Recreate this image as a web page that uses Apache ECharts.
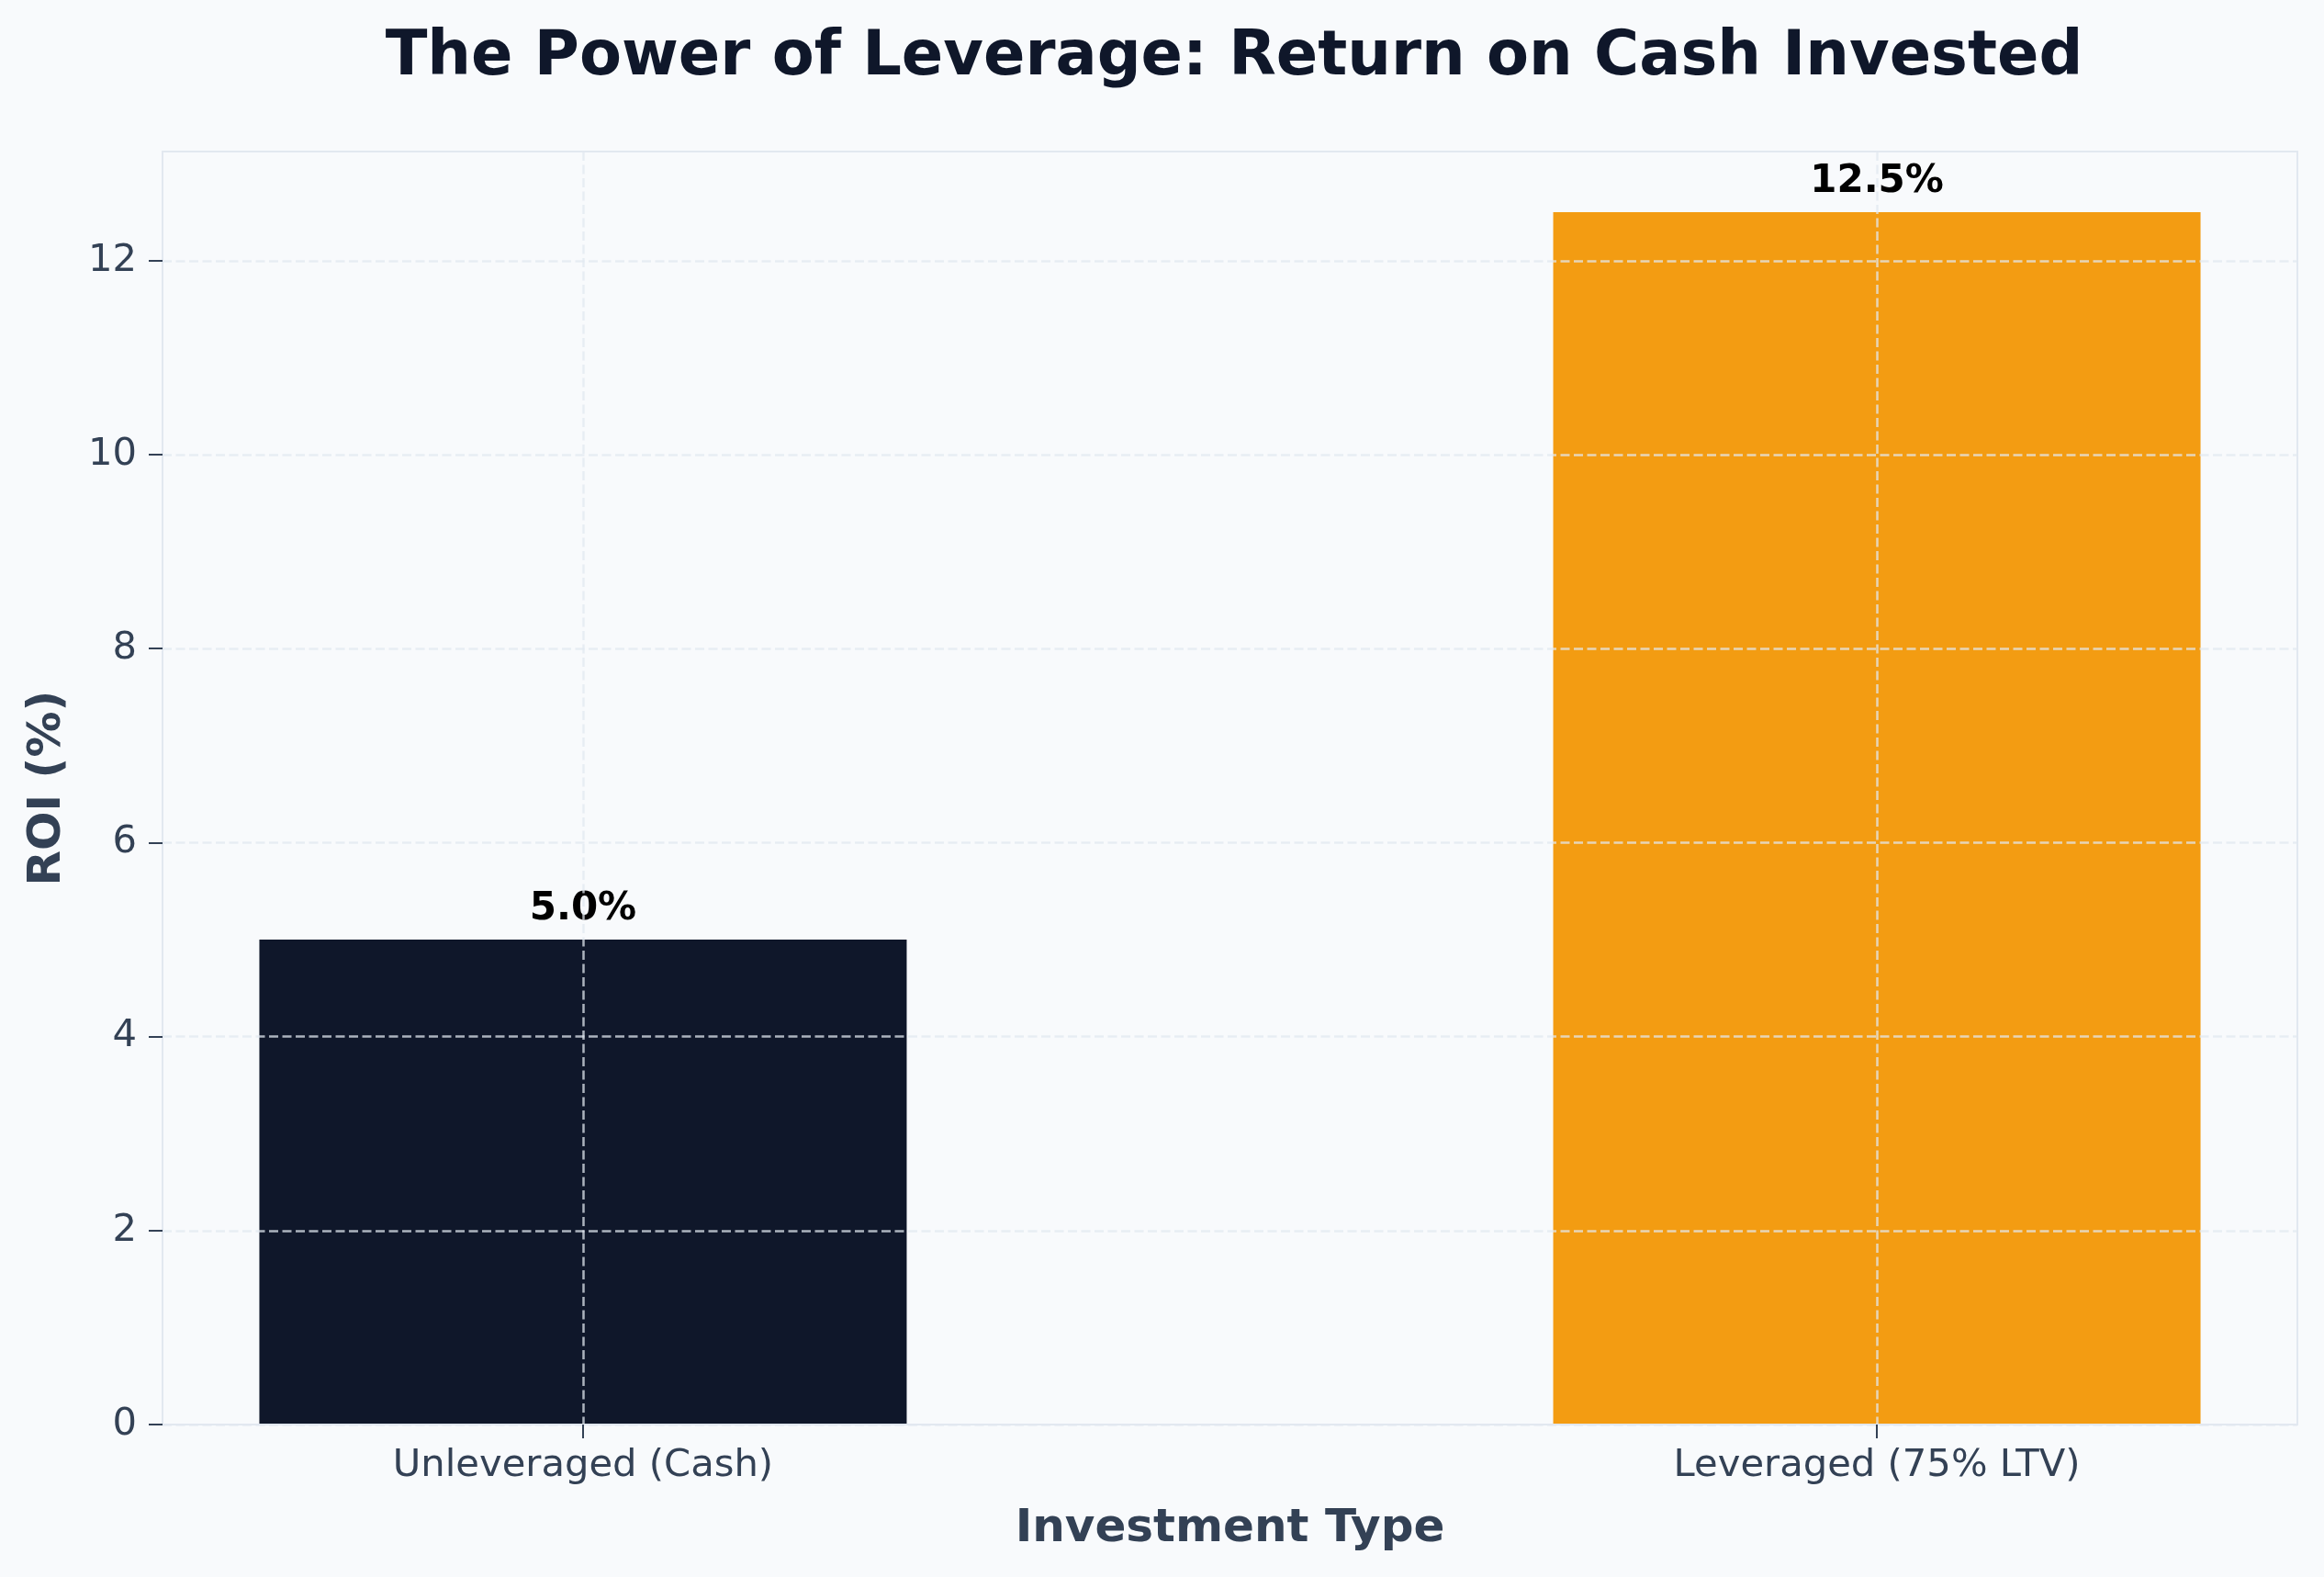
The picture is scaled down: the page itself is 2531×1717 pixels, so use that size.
<!DOCTYPE html>
<html>
<head>
<meta charset="utf-8">
<script src="https://cdn.jsdelivr.net/npm/echarts@6/dist/echarts.min.js"></script>
<style>
  html, body { margin: 0; padding: 0; background: #f8fafc; }
  #chart { width: 2531px; height: 1717px; }
</style>
</head>
<body>
<div id="chart"></div>
<script>
const categories = ['Unleveraged (Cash)', 'Leveraged (75% LTV)']
const roi = [5.0, 12.5]
const barColors = ['#0f172a', '#f39c12']
const yTicks = [0, 2, 4, 6, 8, 10, 12]
const xTicks = [0, 1]

const font = 'DejaVu Sans'
const gridDash = 'rgba(226,232,240,0.75)'

const chart = echarts.init(document.getElementById('chart'))
chart.setOption({
  backgroundColor: '#f8fafc',
  title: {
    text: 'The Power of Leverage: Return on Cash Invested',
    left: 1339,
    textAlign: 'center',
    top: 25,
    textStyle: { fontFamily: font, fontSize: 67, fontWeight: 'bold', color: '#0f172a' }
  },
  grid: {
    left: 177, right: 29, top: 165, bottom: 166,
    show: true,
    borderColor: '#e2e8f0',
    borderWidth: 2,
    backgroundColor: 'transparent'
  },
  xAxis: {
    type: 'value',
    min: -0.325,
    max: 1.325,
    z: 3,
    name: 'Investment Type',
    nameLocation: 'middle',
    nameGap: 89,
    nameTextStyle: { fontFamily: font, fontSize: 50, fontWeight: 'bold', color: '#334155' },
    axisLine: { show: true, onZero: false, lineStyle: { color: '#e2e8f0', width: 2 } },
    axisTick: { show: true, customValues: xTicks, length: 15, lineStyle: { color: '#334155', width: 2 } },
    axisLabel: {
      customValues: xTicks,
      margin: 24,
      fontFamily: font, fontSize: 41.7, color: '#334155',
      formatter: v => categories[Math.round(v)]
    },
    splitLine: { show: true, lineStyle: { color: gridDash, width: 2.5, type: [10, 4.5] } }
  },
  yAxis: {
    type: 'value',
    min: 0,
    max: 13.125,
    z: 3,
    name: 'ROI (%)',
    nameLocation: 'middle',
    nameGap: 100,
    nameTextStyle: { fontFamily: font, fontSize: 50, fontWeight: 'bold', color: '#334155' },
    axisLine: { show: true, onZero: false, lineStyle: { color: '#e2e8f0', width: 2 } },
    axisTick: { show: true, customValues: yTicks, length: 15, lineStyle: { color: '#334155', width: 2 } },
    axisLabel: {
      customValues: yTicks,
      margin: 28,
      fontFamily: font, fontSize: 41.7, color: '#334155'
    },
    splitLine: { show: true, lineStyle: { color: gridDash, width: 2.5, type: [10, 4.5] } }
  },
  series: [{
    type: 'bar',
    barWidth: 705,
    data: roi.map((v, i) => [xTicks[i], v]),
    itemStyle: { color: p => barColors[p.dataIndex] },
    label: {
      show: true,
      position: 'top',
      distance: 12,
      fontFamily: font, fontSize: 42, fontWeight: 'bold', color: '#000',
      formatter: p => p.value[1].toFixed(1) + '%'
    }
  }]
})
</script>
</body>
</html>
